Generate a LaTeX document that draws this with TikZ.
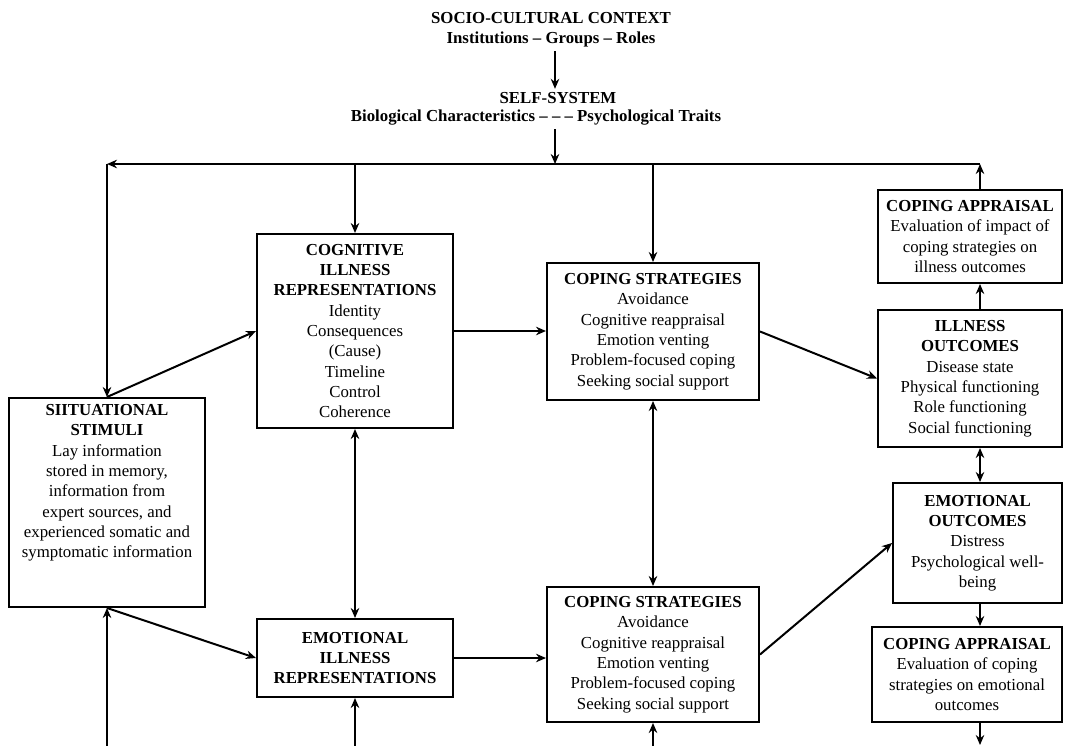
\documentclass[tikz,border=0pt]{standalone}
\usepackage{fontspec}
\setmainfont{Liberation Serif}
\usetikzlibrary{positioning, arrows.meta}

\begin{document}
\begin{tikzpicture}[
    x=1pt, y=-1pt,
    ->, >={Stealth[length=10pt, width=8.5pt]},
    every edge/.style={draw, line width=2pt},
    every node/.style={font=\fontsize{16.8}{20.3}\selectfont, align=center},
    panel/.style={draw, rectangle, line width=2pt, inner sep=2pt}
]
    \useasboundingbox (0,0) rectangle (1065,746);

    % context and self-system
    \node (socio) at (551,30) {\textbf{SOCIO-CULTURAL CONTEXT}\\\textbf{Institutions -- Groups -- Roles}};
    \node (self) at (558,98) {\textbf{SELF-SYSTEM}};
    \node (traits) at (536,118) {\textbf{Biological Characteristics -- -- -- Psychological Traits}};

    \coordinate (mid) at (555,164);
    \coordinate (tl) at (107,164);
    \coordinate (tr) at (980,164);

    % left column
    \node[panel, minimum width=196pt, minimum height=209pt] (situ) at (107,502.5) {};
    \node[below=4pt of situ.north] (situtext) {\textbf{SIITUATIONAL}\\\textbf{STIMULI}\\Lay information\\stored in memory,\\information from\\expert sources, and\\experienced somatic and\\symptomatic information};

    % representations
    \node[panel, minimum width=196pt, minimum height=194pt] (cog) at (355,331) {\textbf{COGNITIVE}\\\textbf{ILLNESS}\\\textbf{REPRESENTATIONS}\\Identity\\Consequences\\(Cause)\\Timeline\\Control\\Coherence};
    \node[panel, minimum width=196pt, minimum height=78pt] (emorep) at (355,658) {\textbf{EMOTIONAL}\\\textbf{ILLNESS}\\\textbf{REPRESENTATIONS}};

    % coping
    \node[panel, minimum width=212pt, minimum height=137pt] (copT) at (653,331.5) {\textbf{COPING STRATEGIES}\\Avoidance\\Cognitive reappraisal\\Emotion venting\\Problem-focused coping\\Seeking social support};
    \node[panel, minimum width=212pt, minimum height=135pt] (copB) at (653,654.5) {\textbf{COPING STRATEGIES}\\Avoidance\\Cognitive reappraisal\\Emotion venting\\Problem-focused coping\\Seeking social support};

    % outcomes and appraisals
    \node[panel, minimum width=184pt, minimum height=93pt] (capT) at (970,236.5) {\textbf{COPING APPRAISAL}\\Evaluation of impact of\\coping strategies on\\illness outcomes};
    \node[panel, minimum width=184pt, minimum height=137pt] (illn) at (970,378.5) {\textbf{ILLNESS}\\\textbf{OUTCOMES}\\Disease state\\Physical functioning\\Role functioning\\Social functioning};
    \node[panel, minimum width=169pt, minimum height=120pt] (emoO) at (977.5,543) {\textbf{EMOTIONAL}\\\textbf{OUTCOMES}\\Distress\\Psychological well-\\being};
    \node[panel, minimum width=190pt, minimum height=95pt] (capB) at (967,674.5) {\textbf{COPING APPRAISAL}\\Evaluation of coping\\strategies on emotional\\outcomes};

    \coordinate (b1) at (107,746);
    \coordinate (b2) at (355,746);
    \coordinate (b3) at (653,746);
    \coordinate (b4) at (980,745);

    \path   (socio.south -| mid) edge (self.north -| mid)
            (traits.south -| mid) edge (mid)
            (capT.north -| tr) edge (tr)
            (tr) edge (tl)
            (tl) edge (situ.north)
            (cog.north |- tl) edge (cog.north)
            (copT.north |- tl) edge (copT.north)
            (situ.north) edge (cog.west)
            (situ.south) edge (emorep.west)
            (cog.east) edge (cog.east -| copT.west)
            (emorep.east) edge (emorep.east -| copB.west)
            (cog.south) edge [<->] (emorep.north)
            (copT.south) edge [<->] (copB.north)
            (copT.east) edge (illn.west)
            (copB.east) edge (emoO.west)
            (illn.north -| tr) edge (capT.south -| tr)
            (illn.south -| tr) edge [<->] (emoO.north -| tr)
            (emoO.south -| tr) edge (capB.north -| tr)
            (capB.south -| tr) edge (b4)
            (b1) edge (situ.south)
            (b2) edge (emorep.south)
            (b3) edge (copB.south);

\end{tikzpicture}
\end{document}
